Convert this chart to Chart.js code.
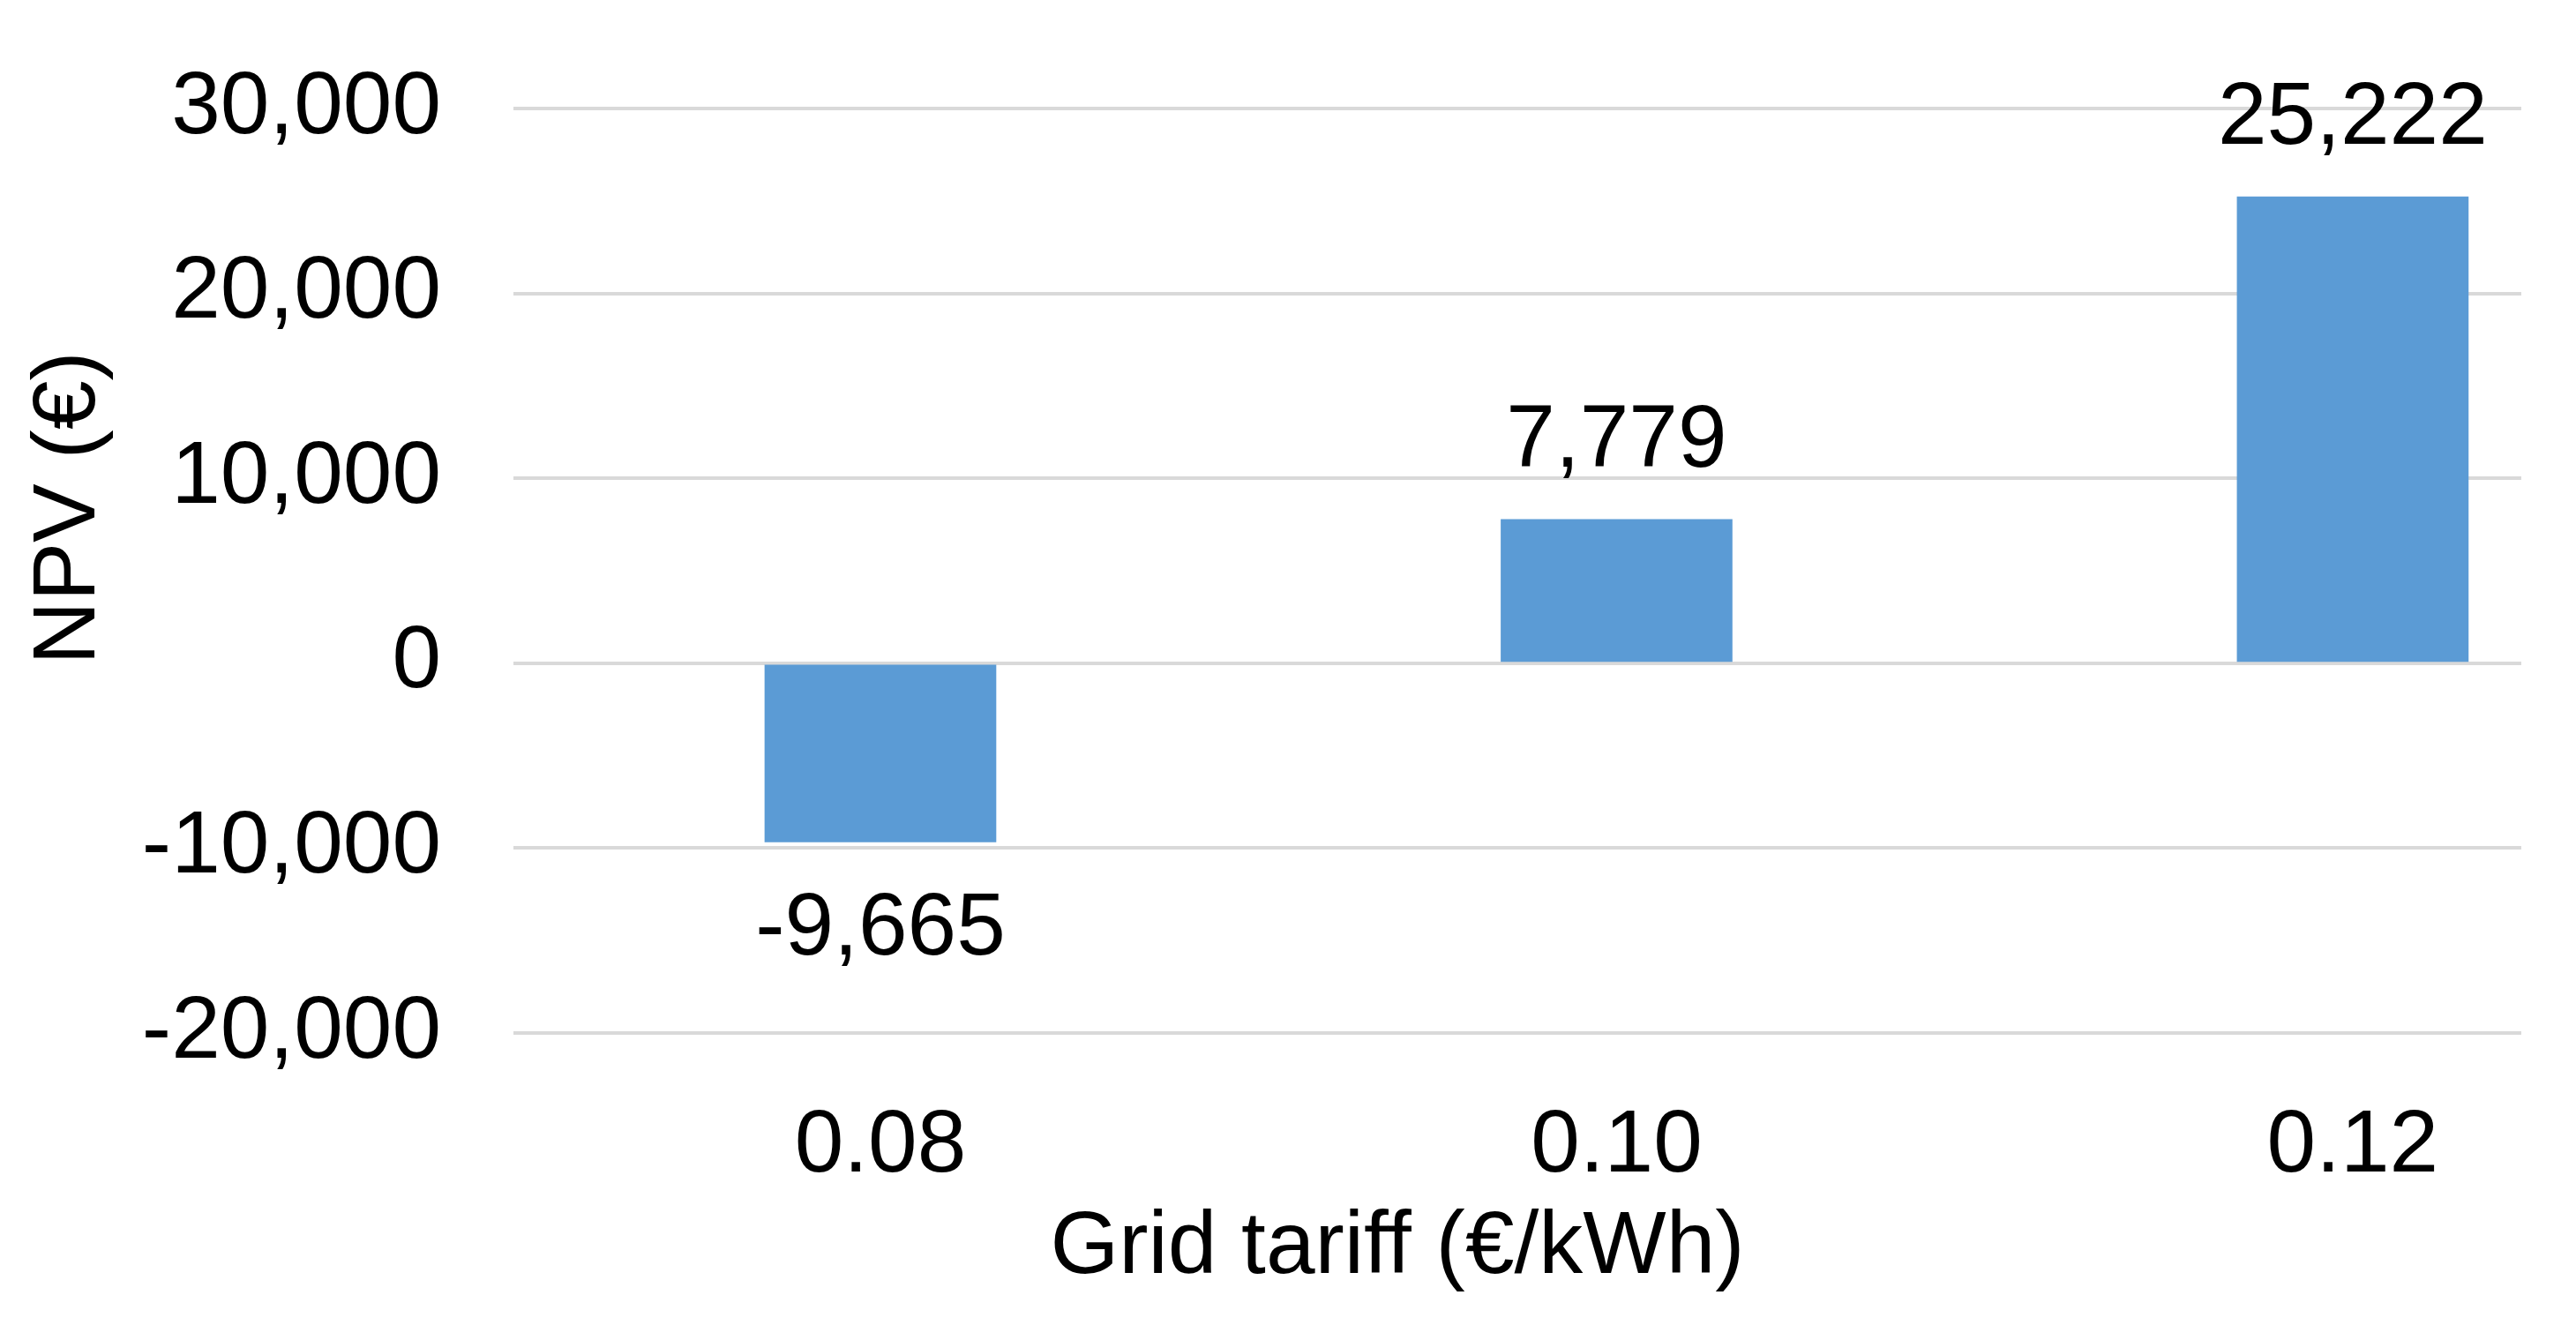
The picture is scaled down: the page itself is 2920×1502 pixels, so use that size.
<!DOCTYPE html>
<html>
<head>
<meta charset="utf-8">
<script src="https://cdn.jsdelivr.net/npm/chart.js@4.4.1/dist/chart.umd.min.js"></script>
<style>
  html, body { margin: 0; padding: 0; background: #ffffff; }
  #wrap { width: 2920px; height: 1502px; position: relative; }
</style>
</head>
<body>
<div id="wrap"><canvas id="c" width="2920" height="1502"></canvas></div>
<script>
// ---- Data ----
const categories = ['0.08', '0.10', '0.12'];
const npvValues = [-9665, 7779, 25222];
const yTicks = [-20000, -10000, 0, 10000, 20000, 30000];
const xAxisTitle = 'Grid tariff (€/kWh)';
const yAxisTitle = 'NPV (€)';

const FONT = '"Liberation Sans", Arial, Helvetica, sans-serif';
const fmt = v => v.toLocaleString('en-US');

const points = categories.map((c, i) => ({ x: i, y: npvValues[i] }));

const valueLabels = {
  id: 'valueLabels',
  afterDatasetsDraw(chart) {
    const ctx = chart.ctx;
    const meta = chart.getDatasetMeta(0);
    ctx.save();
    ctx.font = '100px ' + FONT;
    ctx.fillStyle = '#000000';
    ctx.textAlign = 'center';
    ctx.textBaseline = 'alphabetic';
    meta.data.forEach((bar, i) => {
      const v = npvValues[i];
      const p = bar.getProps(['x', 'y', 'base'], true);
      if (v >= 0) {
        ctx.fillText(fmt(v), p.x, p.y - 60);
      } else {
        ctx.fillText(fmt(v), p.x, p.y + 128);
      }
    });
    ctx.restore();
  }
};

const axisTitles = {
  id: 'axisTitles',
  afterDraw(chart) {
    const ctx = chart.ctx;
    ctx.save();
    ctx.font = '100px ' + FONT;
    ctx.fillStyle = '#000000';
    ctx.textAlign = 'center';
    ctx.textBaseline = 'alphabetic';
    ctx.fillText(xAxisTitle, 1584, 1443);
    ctx.translate(107, 576);
    ctx.rotate(-Math.PI / 2);
    ctx.fillText(yAxisTitle, 0, 0);
    ctx.restore();
  }
};

new Chart(document.getElementById('c'), {
  type: 'bar',
  data: {
    datasets: [{
      data: points,
      backgroundColor: '#5B9BD5',
      borderWidth: 0,
      barThickness: 262
    }]
  },
  options: {
    responsive: false,
    animation: false,
    devicePixelRatio: 1,
    layout: { padding: { top: 123, right: 62, left: 0, bottom: 0 } },
    plugins: { legend: { display: false }, tooltip: { enabled: false }, title: { display: false } },
    scales: {
      x: {
        type: 'linear',
        min: -0.4985,
        max: 2.229,
        offset: false,
        grid: { display: false, drawTicks: false },
        border: { display: false },
        afterFit: s => { s.height = 331; s.paddingLeft = 0; s.paddingRight = 0; },
        afterBuildTicks: s => { s.ticks = categories.map((c, i) => ({ value: i })); },
        ticks: {
          autoSkip: false,
          maxRotation: 0,
          padding: 69,
          color: '#000000',
          font: { size: 100, family: FONT },
          callback: v => categories[v] !== undefined ? categories[v] : ''
        }
      },
      y: {
        min: -20000,
        max: 30000,
        afterBuildTicks: s => { s.ticks = yTicks.map(v => ({ value: v })); },
        afterFit: s => { s.width = 582; s.paddingTop = 0; s.paddingBottom = 0; },
        grid: { color: '#d9d9d9', lineWidth: 4, drawTicks: false },
        border: { display: false },
        ticks: {
          padding: 82,
          color: '#000000',
          font: { size: 100, family: FONT },
          callback: v => fmt(v)
        }
      }
    }
  },
  plugins: [valueLabels, axisTitles]
});
</script>
</body>
</html>
